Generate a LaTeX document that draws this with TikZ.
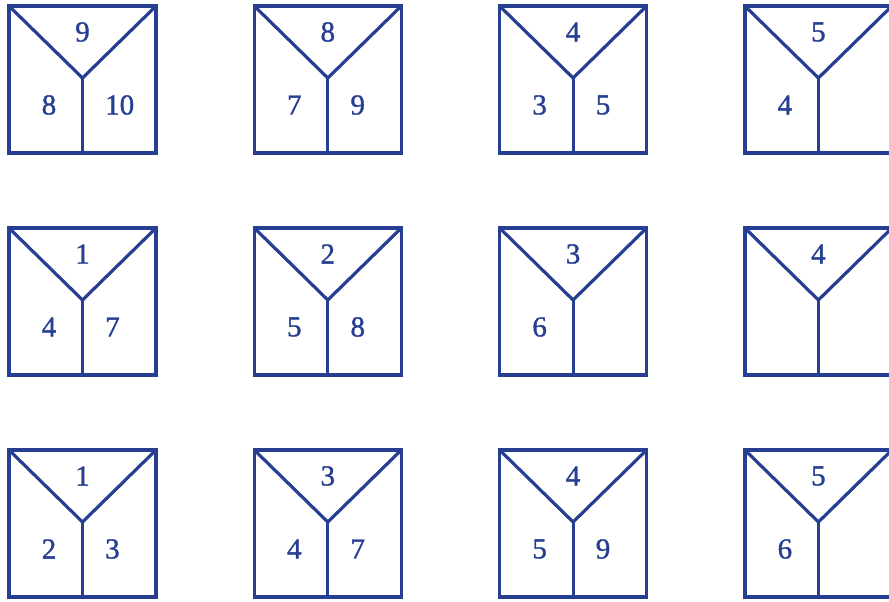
\documentclass[tikz,border=0pt]{standalone}
\usepackage{fontspec}
\setmainfont{Liberation Serif}
\newfontfamily\digitfont{Liberation Serif}[FakeBold=1.2]
\definecolor{ybBlue}{HTML}{263F92}

\begin{document}
\begin{tikzpicture}[x=1pt, y=-1pt,
    boxline/.style={draw=ybBlue, line width=3.2pt, line join=miter},
    digit/.style={text=ybBlue, inner sep=0pt, font=\digitfont\fontsize{29}{32}\selectfont}]
    \useasboundingbox (0,0) rectangle (889,602);
    \clip (0,0) rectangle (889,602);
    \foreach \c/\r/\t/\l/\rr in {0/0/9/8/10, 1/0/8/7/9, 2/0/4/3/5, 3/0/5/4/{},
                                  0/1/1/4/7, 1/1/2/5/8, 2/1/3/6/{}, 3/1/4/{}/{},
                                  0/2/1/2/3, 1/2/3/4/7, 2/2/4/5/9, 3/2/5/6/{}}{
        \begin{scope}[shift={(9+245.3*\c, 6+222*\r)}]
            \draw[boxline] (0,0) rectangle (147,147);
            \coordinate (fork-\c-\r) at (73.5,72);
            \draw[boxline] (0,0) -- (fork-\c-\r) -- (147,0);
            \draw[boxline] (fork-\c-\r) -- (73.5,147);
            \node[digit] (top-\c-\r) at (73.5,26) {\t};
            \node[digit] (left-\c-\r) at (40,99) {\l};
            \node[digit, anchor=west] (right-\c-\r) at (96,99) {\rr};
        \end{scope}
    }
\end{tikzpicture}
\end{document}
